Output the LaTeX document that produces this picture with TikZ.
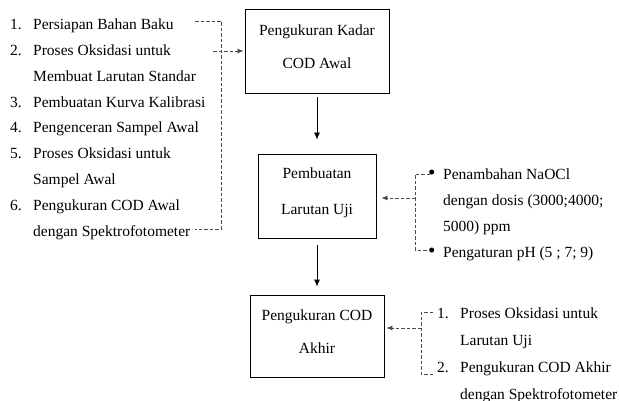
\documentclass[tikz,border=0pt]{standalone}
\usepackage{fontspec}
\setmainfont{Liberation Serif}
\usetikzlibrary{arrows.meta}
\tikzset{
	kotak/.style={draw, line width=0.9pt, align=center, inner sep=0pt, text depth=9pt},
	panah/.style={-{Latex[length=7pt,width=6pt]}, line width=0.8pt},
	putus/.style={draw=black!70, line width=0.8pt, dash pattern=on 3.5pt off 2pt},
	panahputus/.style={putus, -{Latex[length=6pt,width=5pt]}, shorten >=1pt},
	daftar/.style={inner sep=0pt, anchor=north west, align=left}
}
\newcommand{\titik}{\raisebox{-0.5pt}{\fontsize{21}{21}\selectfont •}}
\begin{document}
\begin{tikzpicture}[x=1pt,y=-1pt,
		font=\fontsize{15.5}{25.9}\selectfont,
		color=black]
		\useasboundingbox (0,0) rectangle (619,401);
		% kotak utama
		\node[kotak, minimum width=144pt, minimum height=84pt,
		font=\fontsize{15.5}{33}\selectfont] (awal) at (317,51)
		{Pengukuran Kadar\\COD Awal};
		\node[kotak, minimum width=118pt, minimum height=84pt,
		font=\fontsize{15.5}{36}\selectfont] (uji) at (317,196)
		{Pembuatan\\Larutan Uji};
		\node[kotak, minimum width=134pt, minimum height=82pt,
		font=\fontsize{15.5}{33}\selectfont] (akhir) at (317,336)
		{Pengukuran COD\\Akhir};
		
		\draw[panah, shorten <=4pt, shorten >=14pt] (awal) -- (uji);
		\draw[panah, shorten <=7pt, shorten >=8pt] (uji) -- (akhir);
		
		% daftar kiri
		\node[daftar] (tahapawal) at (10,11)
		{\begin{tabular}{@{}l@{\hspace{11.4pt}}l@{}}
				1. & Persiapan Bahan Baku\\
				2. & Proses Oksidasi untuk\\
				& Membuat Larutan Standar\\
				3. & Pembuatan Kurva Kalibrasi\\
				4. & Pengenceran Sampel Awal\\
				5. & Proses Oksidasi untuk\\
				& Sampel Awal\\
				6. & Pengukuran COD Awal\\
				& dengan Spektrofotometer
		\end{tabular}};
		\coordinate (ka) at (195,21);
		\coordinate (kb) at (221,21);
		\coordinate (kc) at (221,229);
		\coordinate (kd) at (195,229);
		\coordinate (ke) at (213,51);
		\draw[putus] (ka) -- (kb) -- (kc) -- (kd);
		\draw[panahputus] (ke) -- (awal.west);
		
		% daftar kanan tengah
		\node[daftar] (perlakuan) at (428,161)
		{\begin{tabular}{@{}l@{\hspace{7.6pt}}l@{}}
				\titik & Penambahan NaOCl\\
				& dengan dosis (3000;4000;\\
				& 5000) ppm\\
				\titik & Pengaturan pH (5 ; 7; 9)
		\end{tabular}};
		\coordinate (ta) at (430,174);
		\coordinate (tb) at (415,174);
		\coordinate (tc) at (415,250);
		\coordinate (td) at (430,250);
		\coordinate (te) at (415,198);
		\draw[putus] (ta) -- (tb) -- (tc) -- (td);
		\draw[panahputus, shorten >=5pt] (te) -- (te -| uji.east);
		
		% daftar kanan bawah
		\node[daftar, font=\fontsize{15.5}{27}\selectfont] (tahapakhir) at (437,299)
		{\begin{tabular}{@{}l@{\hspace{11.4pt}}l@{}}
				1. & Proses Oksidasi untuk\\
				& Larutan Uji\\
				2. & Pengukuran COD Akhir\\
				& dengan Spektrofotometer
		\end{tabular}};
		\coordinate (ba) at (433,312);
		\coordinate (bb) at (421,312);
		\coordinate (bc) at (421,374);
		\coordinate (bd) at (434,374);
		\coordinate (be) at (421,328);
		\draw[putus] (ba) -- (bb) -- (bc) -- (bd);
		\draw[panahputus, shorten >=2pt] (be) -- (be -| akhir.east);
\end{tikzpicture}
\end{document}
